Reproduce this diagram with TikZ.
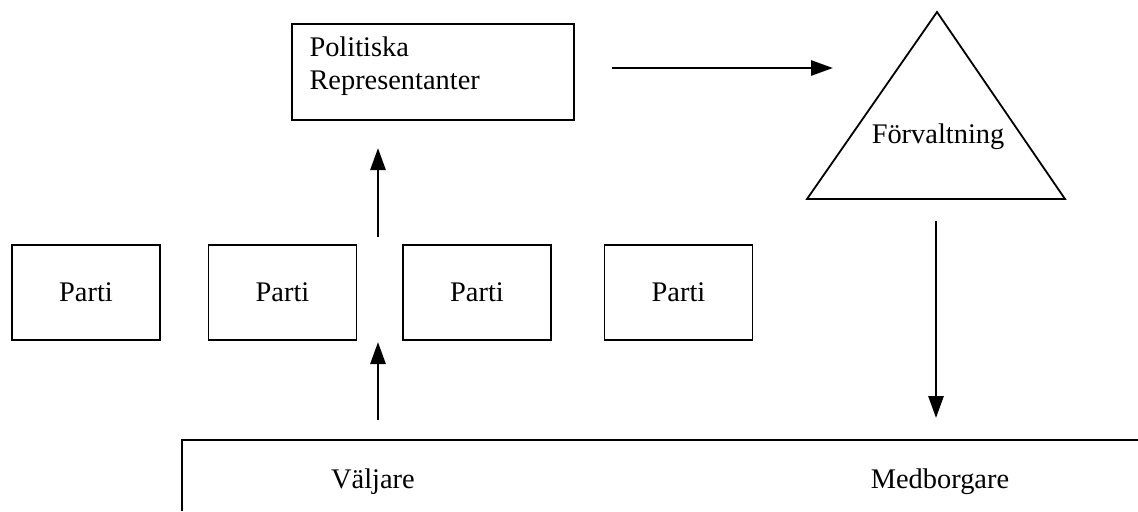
\documentclass[tikz,border=0pt]{standalone}
\usepackage{fontspec}
\setmainfont{Liberation Serif}
\usetikzlibrary{arrows.meta}
\tikzset{
  ruta/.style={draw, line width=0.9pt, inner sep=0pt},
  pil/.style={line width=1.4pt, -{Triangle[length=11pt,width=7.5pt]}},
}
\begin{document}
\begin{tikzpicture}[x=0.5pt, y=-0.5pt, every node/.style={font=\fontsize{14.2}{16.5}\selectfont}]
\useasboundingbox (0,0) rectangle (1138,511);

\node[ruta, minimum width=141pt, minimum height=48pt] (politik) at (433,72) {}; % Politiska box
\node[anchor=north west, align=left, inner sep=0pt] (politiktext) at ([xshift=9pt, yshift=-6.5pt]politik.north west) {Politiska\\Representanter}; % Politiska text
\draw[line width=0.9pt] (937,12) -- (1065,199) -- (807,199) -- cycle; % Forvaltning triangle
\node (forv) at (938,137) {Förvaltning}; % Forvaltning text
\node[ruta, minimum width=74pt, minimum height=47.5pt] (parti1) at (86,292.5) {Parti}; % Parti 1
\node[ruta, minimum width=74pt, minimum height=47.5pt] (parti2) at (282.5,292.5) {Parti}; % Parti 2
\node[ruta, minimum width=74pt, minimum height=47.5pt] (parti3) at (477,292.5) {Parti}; % Parti 3
\node[ruta, minimum width=74pt, minimum height=47.5pt] (parti4) at (678.5,292.5) {Parti}; % Parti 4
\draw[line width=0.9pt] (182,511) -- (182,440) -- (1138,440); % folk box
\node (valjare) at (373,482) {Väljare}; % Valjare
\node (medborgare) at (940,482) {Medborgare}; % Medborgare

\coordinate (s1) at (612,68); % arrow start
\coordinate (e1) at (833,68); % arrow end
\coordinate (s2) at (378,237); % arrow start
\coordinate (e2) at (378,148); % arrow end
\coordinate (s3) at (378,420); % arrow start
\coordinate (e3) at (378,342); % arrow end
\coordinate (s4) at (936,221); % arrow start
\coordinate (e4) at (936,418); % arrow end
\draw[pil] (s1) -- (e1); % representanter till forvaltning
\draw[pil] (s2) -- (e2); % partier till representanter
\draw[pil] (s3) -- (e3); % valjare till partier
\draw[pil] (s4) -- (e4); % forvaltning till medborgare

\end{tikzpicture}
\end{document}
